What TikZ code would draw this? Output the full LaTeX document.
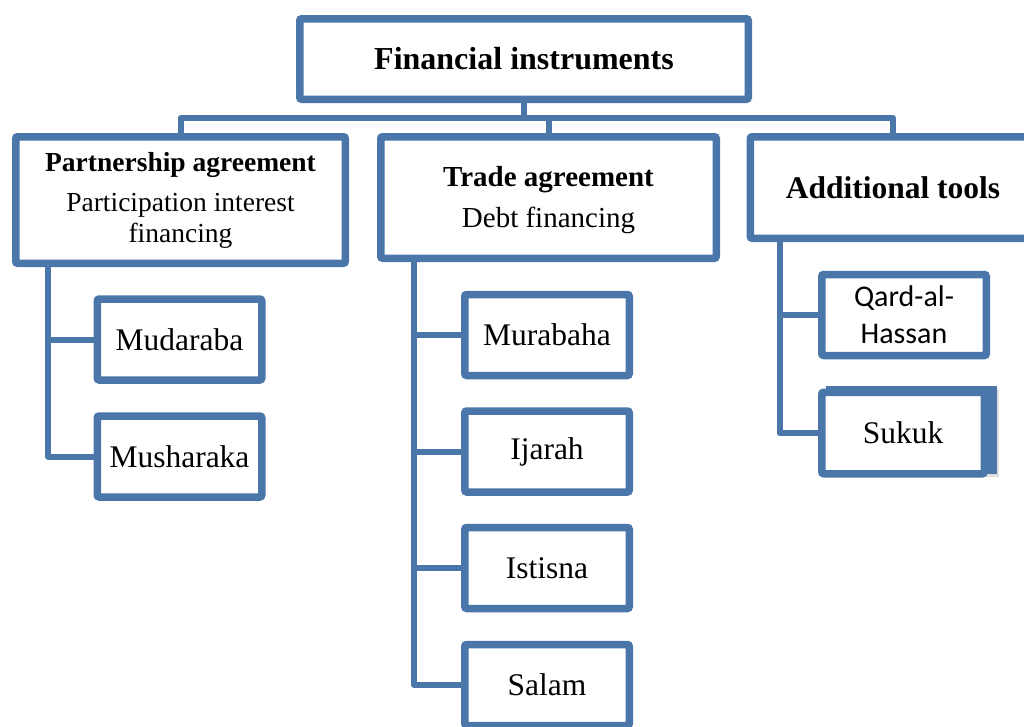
\documentclass[tikz,border=0pt]{standalone}
\usepackage{fontspec}
\setmainfont{Liberation Serif}
\newfontfamily\calibri{Carlito}
\usetikzlibrary{shadows}
\definecolor{bc}{RGB}{74,118,170}
\tikzset{
  box/.style={draw=bc, line width=7.5pt, fill=white, rounded corners=2pt, inner sep=0pt,
    align=center, text=black, drop shadow={opacity=0.25, shadow xshift=1.5pt, shadow yshift=-2.5pt}},
  conn/.style={draw=bc, line width=6pt, line join=round, line cap=butt},
  sub/.style={box, minimum width=164.5pt, minimum height=81pt, font=\fontsize{31.5}{34}\selectfont},
}
\begin{document}
\begin{tikzpicture}[x=1pt,y=-1pt]
\useasboundingbox (0,0) rectangle (1024,726);
\clip (0,0) rectangle (1024,726);
% main boxes
\node[box, minimum width=448.5pt, minimum height=80.5pt, font=\fontsize{32}{34}\selectfont\bfseries] (top) at (524,59) {Financial instruments};
\node[box, minimum width=329.5pt, minimum height=126.5pt, font=\fontsize{27.5}{31}\selectfont] (part) at (180.5,200)
  {\textbf{Partnership agreement}\\[9pt]Participation interest\\financing};
\node[box, minimum width=335.5pt, minimum height=121.5pt, font=\fontsize{29}{31}\selectfont] (trade) at (548.5,197.5)
  {\rule{0pt}{26pt}\textbf{Trade agreement}\\[10pt]Debt financing};
\node[box, minimum width=285.5pt, minimum height=101.5pt, font=\fontsize{31.5}{34}\selectfont\bfseries] (add) at (893,187.5) {Additional tools};
% bus
\coordinate (bus) at (524,118);
\draw[conn] (top.south) -- (bus) -| (part.north);
\draw[conn] (bus) -| (trade.north);
\draw[conn] (bus) -| (add.north);
% sub boxes
\node[sub] (mud) at (179.5,339.5) {Mudaraba};
\node[sub] (mus) at (179.5,456.5) {Musharaka};
\node[sub] (mura) at (547,335) {Murabaha};
\node[sub] (ija) at (547,451.5) {Ijarah};
\node[sub] (ist) at (547,568) {Istisna};
\node[sub] (sal) at (547,685) {Salam};
\node[sub, font=\calibri\fontsize{30}{37}\selectfont] (qard) at (904,315) {Qard-al-\\Hassan};
\fill[bc, drop shadow={opacity=0.25, shadow xshift=1.5pt, shadow yshift=-2.5pt}] (826,386) rectangle (997,474);
\node[sub, minimum width=162.5pt, minimum height=81.5pt] (suk) at (903,433) {Sukuk};
% trunks
\draw[conn] ([xshift=36pt]part.south west) |- (mud.west);
\draw[conn] ([xshift=36pt]part.south west) |- (mus.west);
\draw[conn] ([xshift=37pt]trade.south west) |- (mura.west);
\draw[conn] ([xshift=37pt]trade.south west) |- (ija.west);
\draw[conn] ([xshift=37pt]trade.south west) |- (ist.west);
\draw[conn] ([xshift=37pt]trade.south west) |- (sal.west);
\draw[conn] ([xshift=33pt]add.south west) |- (qard.west);
\draw[conn] ([xshift=33pt]add.south west) |- (suk.west);
\end{tikzpicture}
\end{document}
